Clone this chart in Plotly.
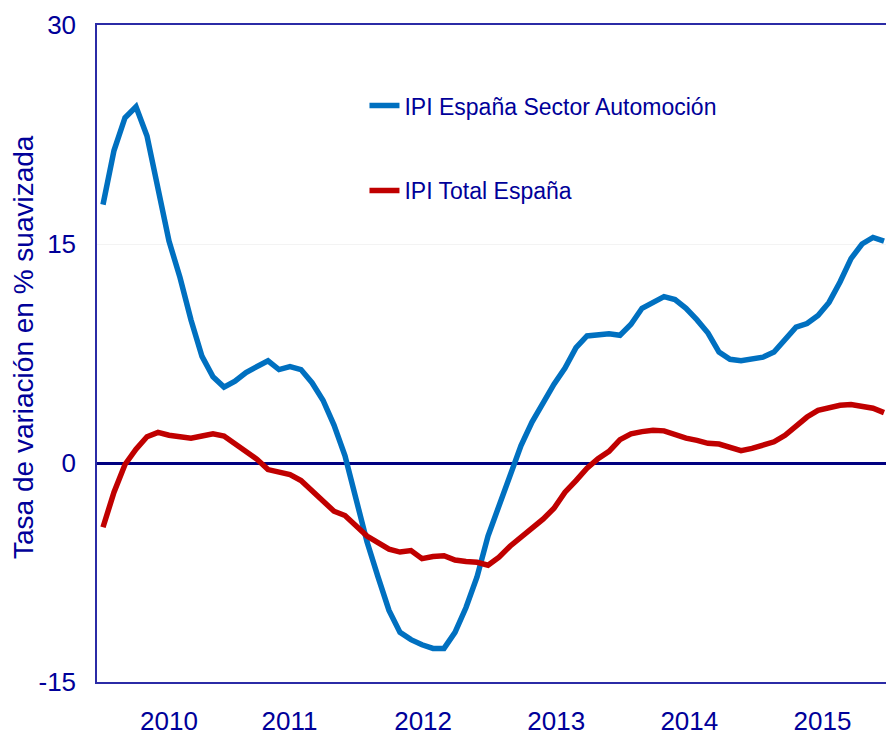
import plotly.graph_objects as go

# Monthly observations (index 0 = first month shown, early 2010)
months = list(range(72))

ipi_auto = [17.7, 21.4, 23.65, 24.4, 22.4, 18.8, 15.2, 12.7, 9.8, 7.3,
            5.9, 5.2, 5.6, 6.2, 6.6, 7.0, 6.4, 6.6, 6.4, 5.5,
            4.3, 2.6, 0.5, -2.4, -5.4, -7.8, -10.1, -11.6, -12.1, -12.45,
            -12.7, -12.7, -11.6, -9.9, -7.8, -5.0, -3.0, -1.0, 1.2, 2.8,
            4.1, 5.4, 6.5, 7.9, 8.7, 8.8, 8.85, 8.75, 9.5, 10.6,
            11.0, 11.4, 11.2, 10.6, 9.8, 8.9, 7.6, 7.1, 7.0, 7.15,
            7.25, 7.6, 8.5, 9.3, 9.55, 10.1, 11.0, 12.4, 14.0, 15.0,
            15.45, 15.2]

ipi_total = [-4.4, -2.0, -0.1, 0.95, 1.8, 2.1, 1.9, 1.8, 1.7, 1.85,
             2.0, 1.85, 1.3, 0.85, 0.25, -0.45, -0.6, -0.8, -1.2, -1.9,
             -2.7, -3.3, -3.6, -4.3, -5.0, -5.45, -5.9, -6.1, -6.0, -6.55,
             -6.4, -6.35, -6.65, -6.75, -6.8, -7.0, -6.45, -5.7, -5.1, -4.4,
             -3.85, -3.1, -2.0, -1.2, -0.35, 0.3, 0.8, 1.6, 2.0, 2.15,
             2.25, 2.2, 1.9, 1.7, 1.55, 1.35, 1.3, 1.1, 0.85, 1.0,
             1.2, 1.45, 1.9, 2.55, 3.15, 3.6, 3.8, 3.95, 4.0, 3.85,
             3.75, 3.45]

year_labels = ["2010", "2011", "2012", "2013", "2014", "2015"]
year_label_pos = [6.0, 16.95, 29.1, 41.2, 53.3, 65.4]

y_ticks = [-15, 0, 15, 30]
y_tick_text = ["-15", "0", "15", "30"]

y_title = "Tasa de variación en % suavizada"

series_names = ["IPI España Sector Automoción", "IPI Total España"]
series_colors = ["#0070C0", "#C00000"]

TEXT = "#000099"
FONT = "Liberation Sans, Arial, sans-serif"

fig = go.Figure()
for name, vals, col in zip(series_names, [ipi_auto, ipi_total], series_colors):
    fig.add_trace(go.Scatter(
        x=months, y=vals, mode="lines", name=name, legendgroup=name,
        line=dict(color=col, width=5.5),
    ))

fig.add_annotation(
    text=y_title, textangle=-90, showarrow=False,
    xref="paper", yref="paper", x=-0.0925, y=0.51,
    xanchor="center", yanchor="middle",
    font=dict(family=FONT, size=28, color=TEXT),
)

fig.update_layout(
    width=886, height=738,
    margin=dict(l=97, r=0, t=25, b=56),
    paper_bgcolor="white", plot_bgcolor="white",
    showlegend=True,
    legend=dict(
        x=0.339, y=0.91, xanchor="left", yanchor="top",
        bgcolor="rgba(0,0,0,0)", traceorder="grouped", tracegroupgap=52,
        font=dict(family=FONT, size=23, color=TEXT),
        itemwidth=30,
    ),
    xaxis=dict(
        range=[-0.545, 71.18], tickmode="array",
        tickvals=year_label_pos, ticktext=year_labels,
        showgrid=False, zeroline=False,
        showline=True, linecolor="#2B2BA6", linewidth=1.5, mirror=True,
        ticks="", ticklabelstandoff=15,
        tickfont=dict(family=FONT, size=26, color=TEXT),
        automargin=False,
    ),
    yaxis=dict(
        range=[-15, 30], tickmode="array", tickvals=y_ticks, ticktext=y_tick_text,
        showgrid=True, gridcolor="#F3F3F3", gridwidth=1,
        zeroline=True, zerolinecolor="#000080", zerolinewidth=3,
        showline=True, linecolor="#2B2BA6", linewidth=1.5,
        ticks="", ticklabelstandoff=14,
        tickfont=dict(family=FONT, size=26, color=TEXT),
        automargin=False,
    ),
)

fig.write_html("out.html",
               config={"displayModeBar": False},
               post_script="document.body.style.margin='0';document.body.style.overflow='hidden';")
